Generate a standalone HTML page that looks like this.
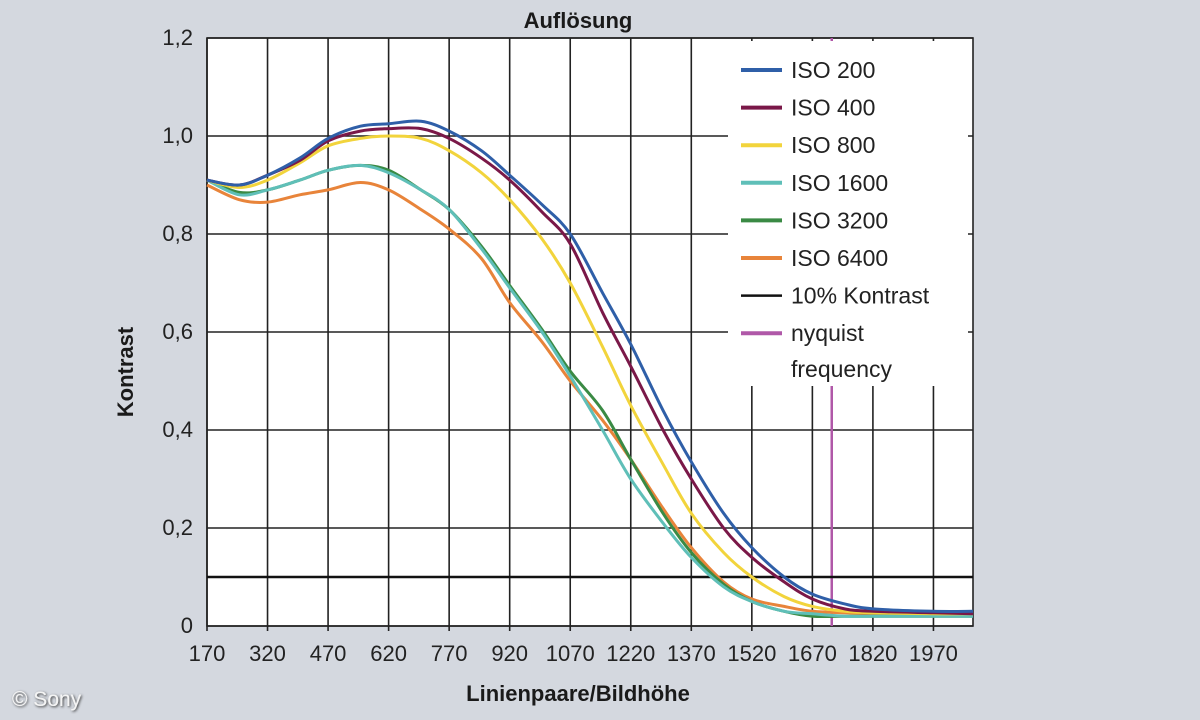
<!DOCTYPE html>
<html><head><meta charset="utf-8"><style>
html,body{margin:0;padding:0;background:#d4d8df;}
svg{display:block;font-family:"Liberation Sans",sans-serif;}
</style></head><body>
<svg id="chart" width="1200" height="720" viewBox="0 0 1200 720">
<defs><filter id="sh" x="-20%" y="-20%" width="140%" height="140%"><feDropShadow dx="1" dy="1" stdDeviation="1.2" flood-color="#333"/></filter></defs>
<rect x="0" y="0" width="1200" height="720" fill="#d4d8df"/>
<text x="578" y="28" text-anchor="middle" font-weight="bold" font-size="22" fill="#1a1a1a">Auflösung</text>
<text transform="translate(133,372) rotate(-90)" text-anchor="middle" font-weight="bold" font-size="22" fill="#1a1a1a">Kontrast</text>
<text x="578" y="701" text-anchor="middle" font-weight="bold" font-size="22" fill="#1a1a1a">Linienpaare/Bildhöhe</text>
<text x="12" y="706" font-size="21" fill="#f4f4f4" filter="url(#sh)">© Sony</text>
<g id="plot"></g>
</svg>
<script>
const xTicks=[170,320,470,620,770,920,1070,1220,1370,1520,1670,1820,1970];
const yTicks=[0,0.2,0.4,0.6,0.8,1.0,1.2];
const yTickLabels=["0","0,2","0,4","0,6","0,8","1,0","1,2"];
const seriesNames=["ISO 200","ISO 400","ISO 800","ISO 1600","ISO 3200","ISO 6400"];
const seriesColors=["#2f5fa8","#7a1848","#f2d43c","#5fbfb8","#3a8a44","#e8843a"];
const xs=[170,250,320,400,470,550,620,700,770,850,920,1000,1070,1150,1220,1300,1370,1450,1520,1600,1670,1750,1820,1970,2068];
const iso200=[0.91,0.90,0.92,0.955,0.995,1.02,1.025,1.03,1.01,0.97,0.92,0.86,0.80,0.68,0.575,0.44,0.335,0.23,0.16,0.10,0.065,0.045,0.035,0.03,0.03];
const iso400=[0.91,0.90,0.92,0.95,0.99,1.01,1.015,1.015,0.995,0.955,0.91,0.845,0.78,0.64,0.53,0.40,0.30,0.20,0.14,0.09,0.055,0.035,0.03,0.027,0.025];
const iso800=[0.91,0.895,0.91,0.945,0.98,0.995,1.0,0.995,0.97,0.925,0.87,0.79,0.70,0.57,0.45,0.33,0.23,0.15,0.10,0.06,0.04,0.03,0.027,0.025,0.025];
const iso1600=[0.91,0.88,0.89,0.91,0.93,0.94,0.925,0.89,0.85,0.77,0.69,0.60,0.51,0.40,0.30,0.21,0.14,0.08,0.05,0.03,0.025,0.02,0.02,0.02,0.02];
const iso3200=[0.91,0.885,0.89,0.91,0.93,0.94,0.93,0.89,0.85,0.775,0.695,0.605,0.52,0.44,0.34,0.23,0.15,0.085,0.05,0.03,0.02,0.02,0.02,0.02,0.02];
const iso6400=[0.90,0.87,0.865,0.88,0.89,0.905,0.89,0.85,0.81,0.75,0.66,0.58,0.50,0.42,0.34,0.24,0.16,0.09,0.055,0.04,0.03,0.027,0.025,0.025,0.025];
const seriesData=[iso200,iso400,iso800,iso1600,iso3200,iso6400];
const kontrastLevel=0.1;
const nyquist=1718;

const L=207,R=973,T=38,B=626,XMIN=170,XMAX=2068,YMAX=1.2;
const sx=v=>L+(v-XMIN)/(XMAX-XMIN)*(R-L);
const sy=v=>B-v/YMAX*(B-T);
const NS="http://www.w3.org/2000/svg";
const g=document.getElementById('plot');
function mk(t,a,p){const e=document.createElementNS(NS,t);for(const k in a)e.setAttribute(k,a[k]);(p||g).appendChild(e);return e;}

const bg=mk('rect',{x:L,y:T,width:R-L,height:B-T,fill:'#fff'});


xTicks.forEach(v=>{
  const l=mk('line',{x1:sx(v),x2:sx(v),y1:T,y2:B+5,stroke:'#222','stroke-width':1.6});
  
  
  const t=mk('text',{x:sx(v),y:661,'text-anchor':'middle','font-size':22,fill:'#222'});
  t.textContent=v;
  
  
});
yTicks.forEach((v,i)=>{
  const l=mk('line',{x1:L,x2:R,y1:sy(v),y2:sy(v),stroke:'#222','stroke-width':1.6});
  
  
  const t=mk('text',{x:193,y:sy(v)+7,'text-anchor':'end','font-size':22,fill:'#222'});
  t.textContent=yTickLabels[i];
  
  
});
const bd=mk('rect',{x:L,y:T,width:R-L,height:B-T,fill:'none',stroke:'#222','stroke-width':1.6});



function smooth(pts){let d=`M${pts[0][0]},${pts[0][1]}`;for(let i=0;i<pts.length-1;i++){const p0=pts[Math.max(0,i-1)],p1=pts[i],p2=pts[i+1],p3=pts[Math.min(pts.length-1,i+2)];const c1=[p1[0]+(p2[0]-p0[0])/6,p1[1]+(p2[1]-p0[1])/6],c2=[p2[0]-(p3[0]-p1[0])/6,p2[1]-(p3[1]-p1[1])/6];d+=`C${c1[0]},${c1[1]} ${c2[0]},${c2[1]} ${p2[0]},${p2[1]}`;}return d;}

const nq=mk('line',{x1:sx(nyquist),x2:sx(nyquist),y1:T,y2:B,stroke:'#b058a8','stroke-width':2.5});


const kl=mk('line',{x1:L,x2:R,y1:sy(kontrastLevel),y2:sy(kontrastLevel),stroke:'#111','stroke-width':2.5});



[5,4,3,2,1,0].forEach(i=>{
  const p=mk('path',{d:smooth(xs.map((x,j)=>[sx(x),sy(seriesData[i][j])])),fill:'none',stroke:seriesColors[i],'stroke-width':3,'stroke-linejoin':'round'});
  
  
});

const lg=mk('g',{});


mk('rect',{x:728,y:41,width:240,height:345,fill:'#fff'},lg);
const entries=seriesNames.map((n,i)=>[n,seriesColors[i]]).concat([["10% Kontrast","#111"],["nyquist","#b058a8"]]);
entries.forEach((e,i)=>{
  const y=70+i*37.6;
  const sw=mk('line',{x1:741,x2:782,y1:y,y2:y,stroke:e[1],'stroke-width':i==6?2.5:4},lg);
  
  
  const t=mk('text',{x:791,y:y+8,'font-size':23,fill:'#222'},lg);
  t.textContent=e[0];
  
  
});
const fq=mk('text',{x:791,y:377,'font-size':23,fill:'#222'},lg);
fq.textContent='frequency';


</script>
</body></html>
